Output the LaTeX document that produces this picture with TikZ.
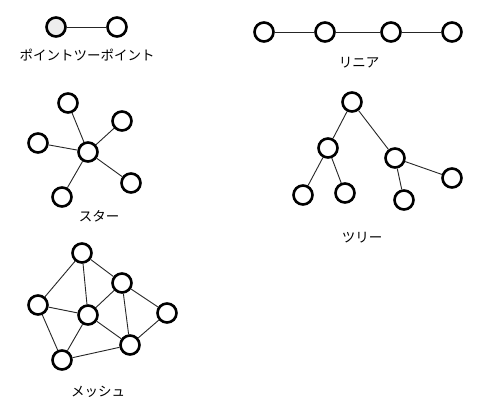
\documentclass[tikz,border=0pt]{standalone}
\usepackage{fontspec}
\newfontfamily\jp{Noto Sans CJK JP}
\begin{document}
\begin{tikzpicture}[x=1pt,y=-1pt,
  nd/.style={circle,draw=black,line width=2.6pt,fill=white,minimum size=19pt,inner sep=0pt},
  ndg/.style={nd,fill=black!7},
  ed/.style={line width=0.9pt,black!85},
  lbl/.style={font=\jp\fontsize{13.5}{16}\selectfont,text=black,inner sep=0pt}]
\useasboundingbox[fill=white] (0,0) rectangle (494,419);
% point to point
\node[ndg] (p1) at (56,27) {};
\node[nd] (p2) at (117,27) {};
\draw[ed] (p1) -- (p2);
\node[lbl] (lp) at (87,55) {ポイントツーポイント};
% linear
\node[nd] (l1) at (264,32) {};
\node[nd] (l2) at (325,32) {};
\node[nd] (l3) at (391,32) {};
\node[nd] (l4) at (452,32) {};
\draw[ed] (l1) -- (l2) (l2) -- (l3) (l3) -- (l4);
\node[lbl] (ll) at (359,63) {リニア};
% star
\node[nd] (sc) at (88,152) {};
\node[nd] (s1) at (68,103) {};
\node[nd] (s2) at (122,121) {};
\node[nd] (s3) at (38,143) {};
\node[nd] (s4) at (131,183) {};
\node[nd] (s5) at (62,197) {};
\foreach \s in {s1,s2,s3,s4,s5} \draw[ed] (sc) -- (\s);
\node[lbl] (ls) at (99,216) {スター};
% tree
\node[nd] (t0) at (352,102) {};
\node[nd] (t1) at (328,148) {};
\node[nd] (t2) at (395,158) {};
\node[nd] (t3) at (303,195) {};
\node[nd] (t4) at (345,193) {};
\node[nd] (t5) at (404,200) {};
\node[nd] (t6) at (452,178) {};
\draw[ed] (t0) -- (t1) (t0) -- (t2) (t1) -- (t3) (t1) -- (t4) (t2) -- (t5) (t2) -- (t6);
\node[lbl] (lt) at (362,238) {ツリー};
% mesh
\node[nd] (mA) at (82,253) {};
\node[nd] (mB) at (122,283) {};
\node[nd] (mC) at (38,305) {};
\node[nd] (mD) at (88,315) {};
\node[nd] (mE) at (167,313) {};
\node[nd] (mF) at (130,345) {};
\node[nd] (mG) at (62,360) {};
\draw[ed] (mA) -- (mC) (mA) -- (mD) (mA) -- (mB) (mB) -- (mD) (mB) -- (mF) (mB) -- (mE)
  (mC) -- (mD) (mC) -- (mG) (mD) -- (mG) (mD) -- (mF) (mE) -- (mF) (mG) -- (mF);
\node[lbl] (lm) at (98,392) {メッシュ};
\end{tikzpicture}
\end{document}
